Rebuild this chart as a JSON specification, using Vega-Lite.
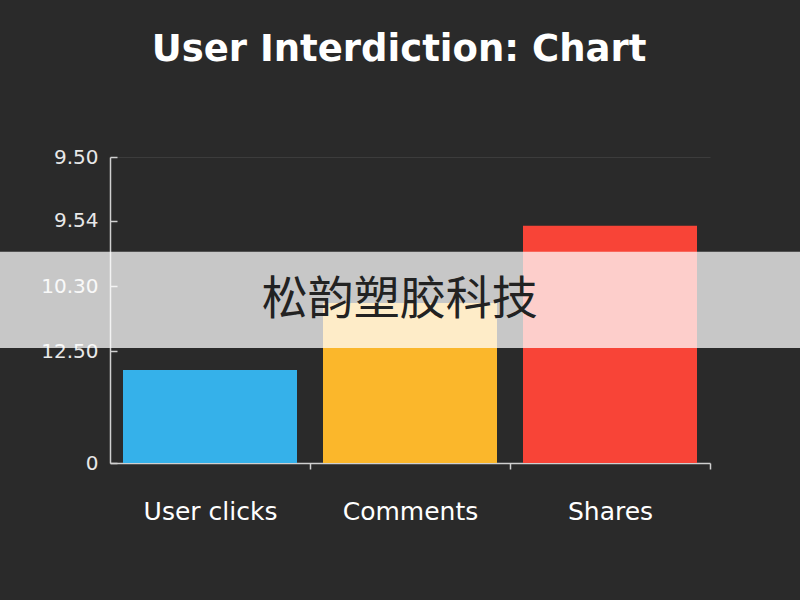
{
  "$schema": "https://vega.github.io/schema/vega-lite/v6.json",
  "width": 600,
  "height": 306,
  "autosize": {"type": "none"},
  "padding": {"left": 110, "top": 157, "right": 90, "bottom": 137},
  "background": "#2a2a2a",
  "title": {
    "text": "User Interdiction: Chart",
    "color": "#ffffff",
    "font": "DejaVu Sans",
    "fontSize": 37,
    "fontWeight": "bold",
    "anchor": "middle",
    "dx": -11,
    "offset": 78
  },
  "config": {
    "view": {"stroke": null},
    "axis": {"labelFont": "DejaVu Sans", "titleFont": "DejaVu Sans"}
  },
  "layer": [
    {
      "data": {
        "values": [
          {"metric": "User clicks", "value": 30.4},
          {"metric": "Comments", "value": 52.3},
          {"metric": "Shares", "value": 77.5}
        ]
      },
      "mark": {"type": "bar"},
      "encoding": {
        "x": {
          "field": "metric",
          "type": "nominal",
          "sort": null,
          "scale": {"paddingInner": 0.13, "paddingOuter": 0.065},
          "axis": {
            "title": null,
            "labelAngle": 0,
            "labelColor": "#ffffff",
            "labelFontSize": 25,
            "labelPadding": 30,
            "domainColor": "#d0d0d0",
            "domainWidth": 1.5,
            "tickColor": "#d0d0d0",
            "tickSize": 6,
            "tickWidth": 1.5,
            "tickOffset": 100,
            "labelOffset": -100
          }
        },
        "y": {
          "field": "value",
          "type": "quantitative",
          "scale": {"domain": [0, 100], "nice": false},
          "axis": {
            "title": null,
            "values": [0, 36.6, 57.8, 79.1, 100],
            "labelExpr": "datum.value == 0 ? '0' : datum.value < 40 ? '12.50' : datum.value < 60 ? '10.30' : datum.value < 80 ? '9.54' : '9.50'",
            "labelColor": "#e8e8e8",
            "labelFontSize": 20,
            "labelPadding": 19,
            "domainColor": "#d0d0d0",
            "domainWidth": 1.5,
            "tickColor": "#d0d0d0",
            "tickSize": -7,
            "tickWidth": 1.5,
            "grid": true,
            "gridColor": {"condition": {"test": "datum.value == 100", "value": "#3c3c3c"}, "value": "transparent"}
          }
        },
        "color": {
          "field": "metric",
          "type": "nominal",
          "scale": {
            "domain": ["User clicks", "Comments", "Shares"],
            "range": ["#35b1ea", "#fbb72b", "#f84437"]
          },
          "legend": null
        }
      }
    },
    {
      "data": {"values": [{"x0": -0.1834, "x1": 1.15, "y0": 37.6, "y1": 69.0}]},
      "mark": {"type": "rect", "color": "#ffffff", "opacity": 0.74, "clip": false},
      "encoding": {
        "x": {"field": "x0", "type": "quantitative", "scale": {"domain": [0, 1]}, "axis": null},
        "x2": {"field": "x1"},
        "y": {"field": "y0", "type": "quantitative"},
        "y2": {"field": "y1"}
      }
    },
    {
      "data": {"values": [{"label": "松韵塑胶科技", "xpos": 0.483, "ypos": 53.3}]},
      "mark": {"type": "text", "font": "Noto Sans CJK SC", "fontSize": 46, "color": "#222222", "align": "center", "baseline": "middle", "clip": false},
      "encoding": {
        "x": {"field": "xpos", "type": "quantitative", "scale": {"domain": [0, 1]}, "axis": null},
        "y": {"field": "ypos", "type": "quantitative"},
        "text": {"field": "label"}
      }
    }
  ],
  "resolve": {"scale": {"x": "independent"}, "axis": {"x": "independent"}}
}
